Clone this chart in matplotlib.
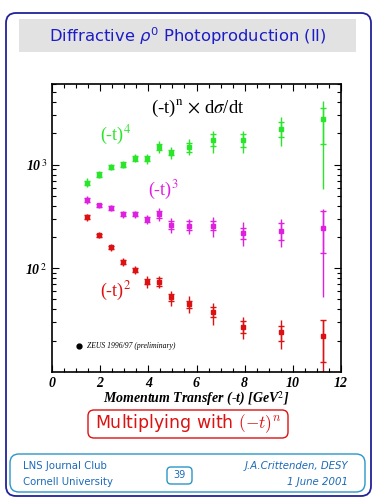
import numpy as np
import matplotlib
matplotlib.use("Agg")
import matplotlib.pyplot as plt
from matplotlib.patches import FancyBboxPatch, Rectangle
from matplotlib.ticker import LogLocator, NullFormatter, MultipleLocator

plt.rcParams['mathtext.fontset'] = 'stix'

# momentum transfer bins (-t) [GeV^2]
t = [1.45, 1.95, 2.45, 2.95, 3.45, 3.95, 4.45, 4.95, 5.7, 6.7, 7.95, 9.5, 11.25]

# (-t)^4 x dsigma/dt
g_val = [666, 802, 948, 1000, 1157, 1142, 1476, 1305, 1489, 1725, 1725, 2183, 2786]
g_tot_lo = [60, 57, 67, 81, 102, 120, 171, 163, 252, 420, 420, 672, 2207]
g_tot_hi = [70, 61, 72, 88, 112, 134, 211, 171, 261, 378, 378, 688, 1364]
g_st_lo = [30, 35, 40, 45, 63, 59, 103, 77, 155, 214, 236, 341, 1194]
g_st_hi = [30, 37, 42, 48, 66, 60, 116, 68, 138, 229, 229, 405, 746]

# (-t)^3 x dsigma/dt
m_val = [454, 404, 383, 333, 331, 296, 331, 259, 257, 257, 218, 230, 244]
m_tot_lo = [36, 24, 25, 25, 27, 28, 44, 42, 43, 58, 53, 71, 191]
m_tot_hi = [39, 26, 26, 27, 29, 31, 47, 44, 44, 52, 59, 68, 125]
m_st_lo = [20, 15, 15, 14, 14, 14, 28, 22, 22, 22, 27, 42, 103]
m_st_hi = [20, 15, 15, 14, 15, 15, 27, 26, 26, 26, 26, 41, 114]

# (-t)^2 x dsigma/dt
r_val = [310, 207, 159, 114, 96, 74, 74, 53, 45, 38, 27, 24.3, 22]
r_tot_lo = [24, 13, 11, 9, 9, 10, 10, 10, 8, 9.5, 6.4, 7.9, 14]
r_tot_hi = [26, 14, 12, 10, 10, 10, 10, 7.5, 9, 8, 6.7, 7, 9.8]
r_st_lo = [12, 7, 6, 5, 5, 3.7, 6.4, 5, 4, 4.2, 3.4, 4.3, 9.5]
r_st_hi = [13, 7, 6, 5, 5, 4, 6, 3.5, 3.6, 3.8, 3.8, 3.6, 9.3]

series = [
    (g_val, g_tot_lo, g_tot_hi, g_st_lo, g_st_hi, '#2ae62a'),
    (m_val, m_tot_lo, m_tot_hi, m_st_lo, m_st_hi, '#e020e0'),
    (r_val, r_tot_lo, r_tot_hi, r_st_lo, r_st_hi, '#dd1111'),
]

fig = plt.figure(figsize=(3.75, 5), dpi=100)

# slide decoration in pixel coordinates
bg = fig.add_axes([0, 0, 1, 1], zorder=0)
bg.set_xlim(0, 375)
bg.set_ylim(500, 0)
bg.axis('off')

bg.add_patch(FancyBboxPatch((6, 13), 365, 483, boxstyle='round,pad=0,rounding_size=10',
                            fc='none', ec='#22229a', lw=1.3))
bg.add_patch(Rectangle((19, 19), 337, 33, fc='#e2e2e2', ec='none'))
bg.text(188, 36, r'Diffractive $\rho^0$ Photoproduction (II)', color='#1c1cc8',
        fontsize=11.8, ha='center', va='center', math_fontfamily='dejavusans')

bg.add_patch(FancyBboxPatch((88, 410), 200, 28, boxstyle='round,pad=0,rounding_size=6',
                            fc='none', ec='#dd1111', lw=1))
bg.text(188, 424, r'Multiplying with $(-t)^n$', color='#dd1111', fontsize=12.5,
        ha='center', va='center', math_fontfamily='cm')

bg.add_patch(FancyBboxPatch((10, 454), 355, 38, boxstyle='round,pad=0,rounding_size=9',
                            fc='none', ec='#2a96c8', lw=1))
bg.add_patch(FancyBboxPatch((167, 467), 25, 17, boxstyle='round,pad=0,rounding_size=4',
                            fc='none', ec='#2a96c8', lw=1))
foot = '#1a6ab8'
bg.text(23, 466, 'LNS Journal Club', color=foot, fontsize=7.3, va='center')
bg.text(23, 482, 'Cornell University', color=foot, fontsize=7.3, va='center')
bg.text(179.5, 475.5, '39', color=foot, fontsize=7, ha='center', va='center')
bg.text(348, 466, 'J.A.Crittenden, DESY', color=foot, fontsize=7.3, va='center',
        ha='right', fontstyle='italic')
bg.text(348, 482, '1 June 2001', color=foot, fontsize=7.3, va='center',
        ha='right', fontstyle='italic')

# the physics plot
ax = fig.add_axes([52 / 375, 1 - 371.7 / 500, 289 / 375, 287.7 / 500], zorder=1)
ax.set_facecolor('none')

for val, tlo, thi, slo, shi, col in series:
    ax.errorbar(t, val, yerr=[tlo, thi], fmt='none', ecolor=col, elinewidth=1, capsize=0)
    ax.errorbar(t, val, yerr=[slo, shi], fmt='s', color=col, ms=3, ecolor=col,
                elinewidth=1, capsize=2.5, capthick=1)

ax.set_yscale('log')
ax.set_xlim(0, 12)
ax.set_ylim(10, 6000)

ax.set_xticks(range(0, 13, 2))
ax.xaxis.set_minor_locator(MultipleLocator(0.5))
ax.set_yticks([100, 1000])
ax.yaxis.set_minor_locator(LogLocator(base=10, subs=np.arange(2, 10)))
ax.yaxis.set_minor_formatter(NullFormatter())
ax.tick_params(which='both', direction='in', top=True, right=True, width=0.8)
ax.tick_params(which='major', length=5)
ax.tick_params(which='minor', length=3)

lab = dict(fontfamily='Liberation Serif', fontstyle='italic', fontweight='bold', fontsize=10)
ax.set_xticklabels([str(v) for v in range(0, 13, 2)], **lab)
ax.set_yticklabels([r'10$^{\,\mathit{2}}$', r'10$^{\,\mathit{3}}$'], **lab)
ax.tick_params(axis='x', pad=4)
ax.set_xlabel(r'Momentum Transfer (-t) [GeV$^{2}$]', labelpad=0, **lab)
for s in ax.spines.values():
    s.set_linewidth(1.2)

ann = dict(fontfamily='Liberation Serif', fontsize=13, va='center')
ax.text(6.05, 3500, r'(-t)$^{\rm n}$ $\times$ d$\sigma$/dt', ha='center', color='black',
        fontfamily='Liberation Serif', fontsize=13.5, va='center')
ax.text(2.0, 1930, r'(-t)$^{4}$', color='#2ae62a', **ann)
ax.text(4.0, 567, r'(-t)$^{3}$', color='#e020e0', **ann)
ax.text(2.0, 60, r'(-t)$^{2}$', color='#dd1111', **ann)

ax.plot([1.12], [17.7], 'o', color='black', ms=3.5)
ax.text(1.45, 17.7, 'ZEUS 1996/97 (preliminary)', fontfamily='Liberation Serif',
        fontstyle='italic', fontsize=5.5, va='center')

fig.savefig('out.png', dpi=100)
